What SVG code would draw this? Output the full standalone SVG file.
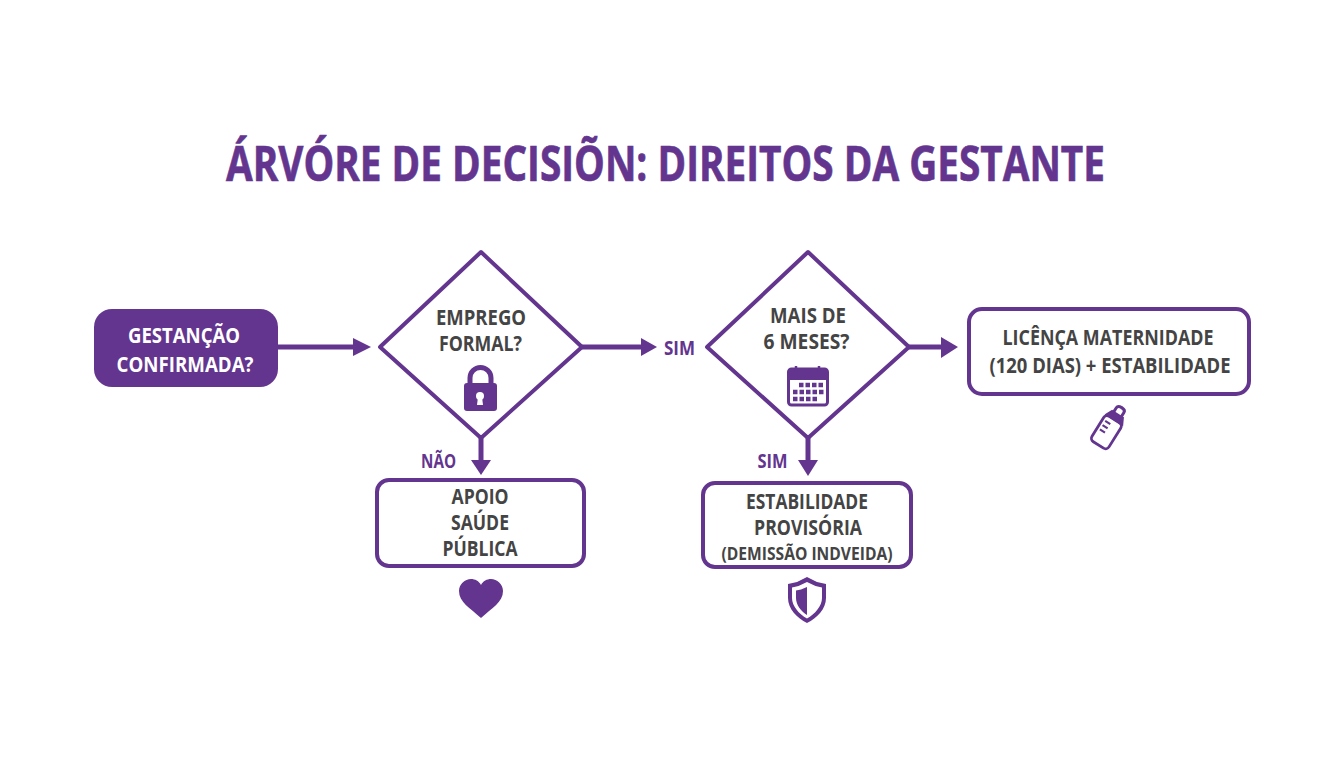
<svg xmlns="http://www.w3.org/2000/svg" width="1344" height="768" viewBox="0 0 1344 768">
<style>
text{font-family:"Open Sans","Noto Sans","Liberation Sans",sans-serif;font-weight:700;text-anchor:middle}
.t{fill:#444444;font-size:21px}
.l{fill:#63358f;font-size:20px}
.box{fill:#fff;stroke:#63358f;stroke-width:4}
.dia{fill:#fff;stroke:#63358f;stroke-width:4;stroke-linejoin:round}
.ln{fill:none;stroke:#63358f;stroke-width:5}
.hd{fill:#63358f}
.ic{fill:#63358f}
.ico{fill:none;stroke:#63358f}
</style>
<rect width="1344" height="768" fill="#fff"/>
<text id="title" x="665.5" y="181" font-size="49" fill="#63358f" stroke="#63358f" stroke-width="0.7" textLength="879" lengthAdjust="spacingAndGlyphs">ÁRVÓRE DE DECISIÕN: DIREITOS DA GESTANTE</text>
<g id="connectors">
<path class="ln" d="M278 347H356"/><path class="hd" d="M353 338L371 347L353 356Z"/>
<path class="ln" d="M582 347H644"/><path class="hd" d="M641 338L657 347L641 356Z"/>
<path class="ln" d="M909 347H944"/><path class="hd" d="M941 337L958 347L941 358Z"/>
<path class="ln" d="M481 438V462"/><path class="hd" d="M471 460H491L481 475Z"/>
<path class="ln" d="M808 438V462"/><path class="hd" d="M798 460H818L808 476Z"/>
<text class="l" x="679.5" y="355" textLength="31" lengthAdjust="spacingAndGlyphs">SIM</text>
<text class="l" x="438.5" y="468" textLength="35" lengthAdjust="spacingAndGlyphs">NÃO</text>
<text class="l" x="772.5" y="468" textLength="30" lengthAdjust="spacingAndGlyphs">SIM</text>
</g>
<g id="start">
<rect x="94" y="309" width="184" height="78" rx="18" fill="#63358f"/>
<text x="184" y="343" font-size="22" fill="#fff" textLength="112" lengthAdjust="spacingAndGlyphs">GESTANÇÃO</text>
<text x="185" y="372" font-size="22" fill="#fff" textLength="137" lengthAdjust="spacingAndGlyphs">CONFIRMADA?</text>
</g>
<g id="emprego">
<path class="dia" d="M481 252L582 347L481 438L380 347Z"/>
<text class="t" x="481" y="325" textLength="90" lengthAdjust="spacingAndGlyphs">EMPREGO</text>
<text class="t" x="480.500" y="351" textLength="83" lengthAdjust="spacingAndGlyphs">FORMAL?</text>
<path class="ico" stroke-width="5" d="M470 385V378A10.500 10.500 0 0 1 491 378V385"/>
<rect class="ic" x="464" y="383" width="33" height="28" rx="3"/>
<circle cx="480" cy="396" r="4" fill="#fff"/><path d="M478 397H482L483 405H477Z" fill="#fff"/>
</g>
<g id="meses">
<path class="dia" d="M808 252L909 347L808 438L707 347Z"/>
<text class="t" x="808" y="323" textLength="76" lengthAdjust="spacingAndGlyphs">MAIS DE</text>
<text class="t" x="806.500" y="349" textLength="86" lengthAdjust="spacingAndGlyphs">6 MESES?</text>
<rect x="788.500" y="369" width="39" height="36" rx="3" fill="#fff" stroke="#63358f" stroke-width="3"/>
<path class="ic" d="M788 372a3 3 0 0 1 3-3H825a3 3 0 0 1 3 3V380H788Z"/>
<path class="ico" stroke-width="2.500" d="M796 366V372M819 366V372"/>
<path class="ico" stroke-width="4.500" stroke-dasharray="4.500 2" d="M799 385H824M793 392H824M793 399H818"/>
</g>
<g id="licenca">
<rect class="box" x="969" y="309" width="280" height="85" rx="13"/>
<text class="t" x="1108" y="345" textLength="211" lengthAdjust="spacingAndGlyphs">LICÊNÇA MATERNIDADE</text>
<text class="t" x="1110" y="373" textLength="241" lengthAdjust="spacingAndGlyphs">(120 DIAS) + ESTABILIDADE</text>
<g transform="rotate(32 1109 428)">
<path class="ico" stroke-width="3" d="M1104.500 412V407Q1104.500 404 1109 404T1113.500 407V412"/>
<rect x="1099" y="418" width="20" height="30" rx="4" fill="#fff" stroke="#63358f" stroke-width="2.800"/>
<path class="ic" d="M1102 411H1116L1120 419H1098Z"/>
<path class="ico" stroke-width="2.200" d="M1102 424H1108M1102 429H1108M1102 434H1108"/>
</g>
</g>
<g id="apoio">
<rect class="box" x="377" y="480" width="207" height="86" rx="12"/>
<text class="t" x="480" y="504" textLength="57" lengthAdjust="spacingAndGlyphs">APOIO</text>
<text class="t" x="480" y="530" textLength="58" lengthAdjust="spacingAndGlyphs">SAÚDE</text>
<text class="t" x="480" y="556" textLength="75" lengthAdjust="spacingAndGlyphs">PÚBLICA</text>
<path class="ic" d="M481 618C470 608 459 602 459 591C459 584 465 579 471 579C475 579 479 581 481 585C483 581 487 579 491 579C497 579 503 584 503 591C503 602 492 608 481 618Z"/>
</g>
<g id="estabilidade">
<rect class="box" x="703" y="483" width="208" height="84" rx="12"/>
<text class="t" x="807" y="509" textLength="122" lengthAdjust="spacingAndGlyphs">ESTABILIDADE</text>
<text class="t" x="808" y="535" textLength="108" lengthAdjust="spacingAndGlyphs">PROVISÓRIA</text>
<text class="t" x="807" y="560" style="font-size:18.500px" textLength="171" lengthAdjust="spacingAndGlyphs">(DEMISSÃO INDVEIDA)</text>
<path class="ic" d="M807 577L817 582L826 584V598C826 609 817 618 807 623C797 618 788 609 788 598V584L797 582Z"/>
<path fill="#fff" d="M807 582L815.500 586L822 587.500V598C822 606 815 614 807 618.500C799 614 792 606 792 598V587.500L798.500 586Z"/>
<path class="ic" d="M807 587V615C801 611 796 605 796 598V590.500L801 589.500Z"/>
</g>
</svg>
